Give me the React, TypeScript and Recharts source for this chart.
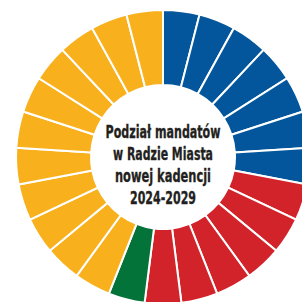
import { Cell, Pie, PieChart } from 'recharts';

// seats per club, clockwise from 12 o'clock
const clubs = ['Klub 1', 'Klub 2', 'Klub 3', 'Klub 4'];
const seatCounts = [7, 6, 1, 11];
const clubColors = ['#03569b', '#d2232b', '#04733a', '#f8b11d'];
const titleLines = ['Podział mandatów', 'w Radzie Miasta', 'nowej kadencji', '2024-2029'];
const titleWidths = [115, 100, 96, 66];
const titleBaselines = [138, 160, 182, 203.5];

const seats = clubs.flatMap((club, i) =>
  Array.from({ length: seatCounts[i] }, (_, k) => ({ name: `${club} ${k + 1}`, value: 1, color: clubColors[i] })),
);

const CX = 163;
const CY = 157;

export default function App() {
  return (
    <div style={{ position: 'fixed', left: 0, top: 0, width: 302, height: 302, background: '#fff' }}>
      <PieChart width={302} height={302} margin={{ top: 0, right: 0, bottom: 0, left: 0 }}>
        <Pie
          data={seats}
          dataKey="value"
          nameKey="name"
          cx={CX}
          cy={CY}
          innerRadius={72}
          outerRadius={147}
          startAngle={90}
          endAngle={-270}
          stroke="#ffffff"
          strokeWidth={2}
          isAnimationActive={false}
        >
          {seats.map((s) => (
            <Cell key={s.name} fill={s.color} />
          ))}
        </Pie>
      </PieChart>
      {/* title sits on top of the chart */}
      <svg width={302} height={302} style={{ position: 'absolute', left: 0, top: 0, pointerEvents: 'none' }}>
        <text
          textAnchor="middle"
          fill="#231f20"
          stroke="#231f20"
          strokeWidth={0.35}
          fontFamily="'DejaVu Sans Condensed', 'Liberation Sans Narrow', Roboto, sans-serif"
          fontWeight="bold"
          fontSize={18.5}
        >
          {titleLines.map((line, i) => (
            <tspan
              key={line}
              x={CX}
              y={titleBaselines[i]}
              textLength={titleWidths[i]}
              lengthAdjust="spacingAndGlyphs"
            >
              {line}
            </tspan>
          ))}
        </text>
      </svg>
    </div>
  );
}
